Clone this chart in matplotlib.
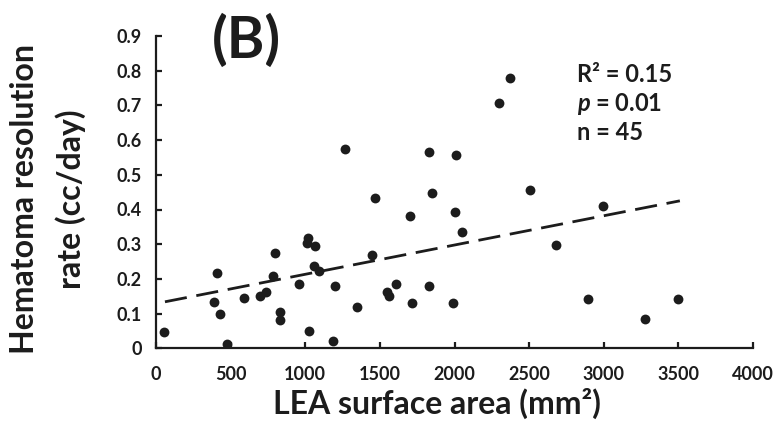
import matplotlib
matplotlib.use("Agg")
import matplotlib.pyplot as plt
import numpy as np

# Data
lea_area = [56, 406, 389, 429, 478, 587, 697, 737, 782, 797, 831, 831, 958,
            1010, 1021, 1065, 1059, 1094, 1027, 1184, 1201, 1264, 1349, 1445,
            1469, 1548, 1563, 1610, 1704, 1713, 1831, 1847, 1831, 2010, 2003,
            2048, 1992, 2372, 2296, 2508, 2680, 2993, 2892, 3276, 3497]
resolution_rate = [0.048, 0.218, 0.133, 0.098, 0.012, 0.144, 0.152, 0.162,
                   0.209, 0.276, 0.105, 0.082, 0.186, 0.304, 0.319, 0.295,
                   0.237, 0.223, 0.050, 0.021, 0.180, 0.575, 0.119, 0.268,
                   0.433, 0.162, 0.151, 0.186, 0.382, 0.131, 0.565, 0.447,
                   0.180, 0.557, 0.393, 0.336, 0.130, 0.778, 0.708, 0.456,
                   0.298, 0.410, 0.143, 0.085, 0.143]
trend_x = [60, 3510]
trend_y = [0.134, 0.425]
x_ticks = [0, 500, 1000, 1500, 2000, 2500, 3000, 3500, 4000]
y_ticks = [0, 0.1, 0.2, 0.3, 0.4, 0.5, 0.6, 0.7, 0.8, 0.9]
y_ticklabels = ["0", "0.1", "0.2", "0.3", "0.4", "0.5", "0.6", "0.7", "0.8", "0.9"]
stats_lines = ["R\u00b2 = 0.15", r"$\mathit{p}$ = 0.01", "n = 45"]

plt.rcParams['font.family'] = ['Lato', 'DejaVu Sans']
plt.rcParams['mathtext.fontset'] = 'custom'
plt.rcParams['mathtext.it'] = 'Lato:italic:bold'
plt.rcParams['mathtext.rm'] = 'Lato:bold'
ink = "#1c1c1c"

W, H = 776, 426
fig = plt.figure(figsize=(W / 100, H / 100), dpi=100)
ax = fig.add_axes([156 / W, (H - 348.3) / H, 597 / W, 312.3 / H])

ax.scatter(lea_area, resolution_rate, s=50, color=ink, zorder=3, linewidths=0)
ax.plot(trend_x, trend_y, color=ink, lw=2.0, dashes=(8, 3.5), zorder=2)

ax.set_xlim(0, 4000)
ax.set_ylim(0, 0.9)
ax.set_xticks(x_ticks)
ax.set_xticklabels([str(v) for v in x_ticks])
ax.set_yticks(y_ticks)
ax.set_yticklabels(y_ticklabels)

for s in ["top", "right"]:
    ax.spines[s].set_visible(False)
for s in ["left", "bottom"]:
    ax.spines[s].set_linewidth(1.6)
    ax.spines[s].set_color(ink)

ax.tick_params(axis="both", direction="in", length=4, width=1.6, color=ink,
               labelcolor=ink, labelsize=13)
ax.tick_params(axis="x", pad=13)
ax.tick_params(axis="y", pad=10)
for lab in ax.get_xticklabels() + ax.get_yticklabels():
    lab.set_fontweight("bold")

# Axis titles
fig.text(437 / W, 1 - 403 / H, "LEA surface area (mm\u00b2)", ha="center", va="center",
         fontsize=23, fontweight="bold", color=ink)
fig.text(25 / W, 1 - 199 / H, "Hematoma resolution", ha="center", va="center",
         rotation=90, fontsize=23, fontweight="bold", color=ink)
fig.text(71 / W, 1 - 199 / H, "rate (cc/day)", ha="center", va="center",
         rotation=90, fontsize=23, fontweight="bold", color=ink)

# Panel label
fig.text(246 / W, 1 - 41 / H, "(B)", ha="center", va="center",
         fontsize=41, fontweight="bold", color=ink)

# Statistics
for txt, ypx in zip(stats_lines, [74, 104, 133]):
    fig.text(577 / W, 1 - ypx / H, txt, ha="left", va="center",
             fontsize=17, fontweight="bold", color=ink)

fig.savefig("out.png", dpi=100)
